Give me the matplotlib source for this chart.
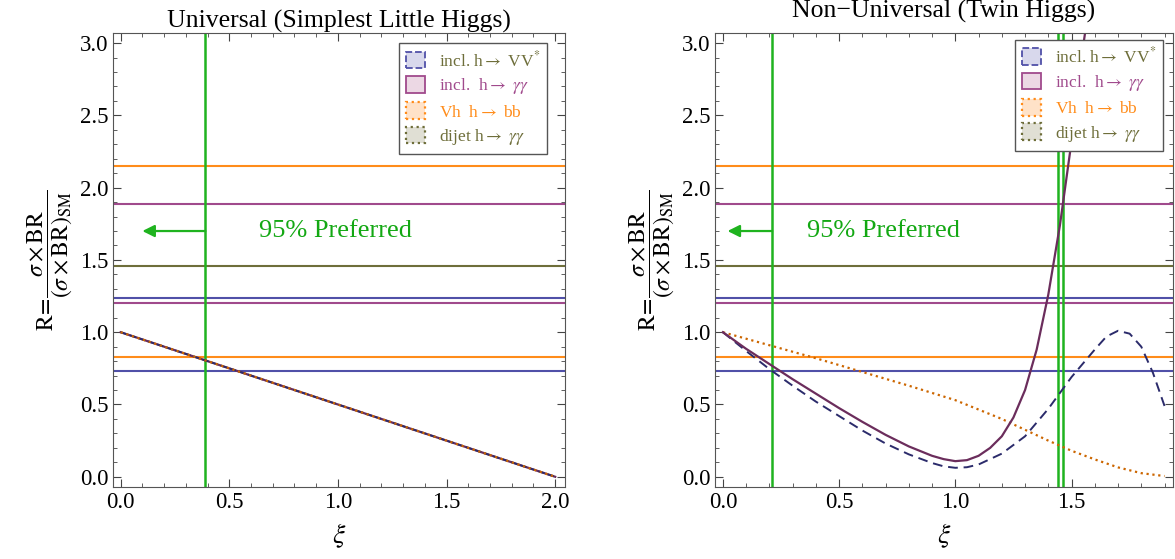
import matplotlib
matplotlib.use('Agg')
import matplotlib.pyplot as plt
from matplotlib.patches import Patch
from matplotlib.ticker import MultipleLocator

plt.rcParams['font.family'] = ['Liberation Serif', 'DejaVu Serif']
plt.rcParams['mathtext.fontset'] = 'stix'

# 95% ranges of the measured signal strengths (horizontal lines)
vv_band = [0.73, 1.24]
gg_band = [1.20, 1.89]
bb_band = [0.83, 2.15]
dijet_band = [1.46]

# universal model: all channels coincide
xi_u = [0.0, 0.5, 1.0, 1.5, 2.0]
r_u = [1.0, 0.75, 0.5, 0.25, 0.0]
xi_u_cut = 0.39

# non-universal (twin higgs)
xi_gg = [0.0, 0.1, 0.2, 0.3, 0.4, 0.5, 0.6, 0.7, 0.8, 0.9, 0.95, 1.0, 1.05,
         1.1, 1.15, 1.2, 1.25, 1.3, 1.35, 1.4, 1.45, 1.5, 1.55, 1.57]
r_gg = [1.0, 0.885, 0.78, 0.675, 0.575, 0.475, 0.38, 0.29, 0.21, 0.145, 0.122,
        0.108, 0.115, 0.145, 0.2, 0.28, 0.41, 0.60, 0.88, 1.26, 1.74, 2.32,
        2.98, 3.2]
xi_vv = [0.0, 0.1, 0.2, 0.3, 0.4, 0.5, 0.6, 0.7, 0.8, 0.9, 0.95, 1.0, 1.05,
         1.1, 1.2, 1.3, 1.4, 1.5, 1.6, 1.65, 1.7, 1.75, 1.8, 1.85, 1.9]
r_vv = [1.0, 0.87, 0.745, 0.63, 0.52, 0.42, 0.32, 0.23, 0.155, 0.095, 0.072,
        0.062, 0.066, 0.085, 0.16, 0.28, 0.47, 0.69, 0.88, 0.97, 1.01, 0.99,
        0.9, 0.72, 0.49]
xi_bb = [0.0, 0.2, 0.4, 0.6, 0.8, 1.0, 1.2, 1.3, 1.4, 1.5, 1.6, 1.7, 1.8, 1.9]
r_bb = [1.0, 0.91, 0.82, 0.725, 0.63, 0.53, 0.40, 0.325, 0.25, 0.18, 0.12,
        0.065, 0.025, 0.005]
xi_nu_cut = [0.212, 1.44, 1.465]

c_vv, c_gg, c_bb, c_dj = '#5050a8', '#a04a8c', '#ff8c1a', '#6e6e3a'
c_green = '#1fb31f'

fig = plt.figure(figsize=(11.75, 5.59), dpi=100)
ax1 = fig.add_axes([0.0962, 0.129, 0.385, 0.812])
ax2 = fig.add_axes([0.6085, 0.129, 0.3895, 0.812])


def setup(ax, xlim, leg_anchor):
    ax.set_xlim(*xlim)
    ax.set_ylim(-0.07, 3.07)
    ax.xaxis.set_major_locator(MultipleLocator(0.5))
    ax.xaxis.set_minor_locator(MultipleLocator(0.1))
    ax.yaxis.set_major_locator(MultipleLocator(0.5))
    ax.yaxis.set_minor_locator(MultipleLocator(0.1))
    ax.xaxis.set_major_formatter(plt.FuncFormatter(lambda v, p: f'{v:.1f}'))
    ax.yaxis.set_major_formatter(plt.FuncFormatter(lambda v, p: f'{v:.1f}'))
    ax.tick_params(which='both', direction='in', top=True, right=True,
                   labelsize=16.5, color='#444444')
    ax.tick_params(which='major', length=6)
    ax.tick_params(which='minor', length=3)
    for s in ax.spines.values():
        s.set_color('#555555')
    ax.set_xlabel(r'$\xi$', fontsize=20, labelpad=6)
    ax.set_ylabel(r'$\mathrm{R}\!=\!\dfrac{\sigma\times\mathrm{BR}}{(\sigma\times\mathrm{BR})_{\mathrm{SM}}}$',
                  fontsize=17, labelpad=4)
    for v in vv_band:
        ax.axhline(v, color=c_vv, lw=1.5)
    for v in gg_band:
        ax.axhline(v, color=c_gg, lw=1.5)
    for v in bb_band:
        ax.axhline(v, color=c_bb, lw=1.5)
    for v in dijet_band:
        ax.axhline(v, color=c_dj, lw=1.5)
    handles = [
        Patch(facecolor='#d8d8ec', edgecolor=c_vv, linestyle='--', lw=1.3),
        Patch(facecolor='#ecd8e4', edgecolor=c_gg, linestyle='-', lw=1.3),
        Patch(facecolor='#ffe2c8', edgecolor=c_bb, linestyle=':', lw=1.6),
        Patch(facecolor='#e0dfd4', edgecolor=c_dj, linestyle=':', lw=1.6),
    ]
    labels = [r'incl. h$\rightarrow$ VV$^{*}$',
              r'incl.  h$\rightarrow$ $\gamma\gamma$',
              r'Vh  h$\rightarrow$ bb',
              r'dijet h$\rightarrow$ $\gamma\gamma$']
    leg = ax.legend(handles, labels, loc='upper right', fontsize=12.5,
                    bbox_to_anchor=leg_anchor,
                    fancybox=False, edgecolor='#555555', framealpha=1,
                    handlelength=1.1, handleheight=1.1, handletextpad=0.8,
                    borderpad=0.4, borderaxespad=0.0, labelspacing=0.35)
    for t, c in zip(leg.get_texts(), [c_dj, c_gg, c_bb, c_dj]):
        t.set_color(c)


setup(ax1, (-0.035, 2.047), (0.96, 0.978))
setup(ax2, (-0.034, 1.935), (0.98, 0.985))

# left panel
ax1.axvline(xi_u_cut, color=c_green, lw=1.8)
ax1.plot(xi_u, r_u, color='#6b2d5c', lw=1.6)
ax1.plot(xi_u, r_u, color='#2b2b6b', lw=1.3, ls='--')
ax1.plot(xi_u, r_u, color='#cc6600', lw=1.6, ls=':')
ax1.annotate('', xy=(0.10, 1.70), xytext=(xi_u_cut, 1.70),
             arrowprops=dict(arrowstyle='-|>', color=c_green, lw=1.6,
                             mutation_scale=18, shrinkA=0, shrinkB=0))
ax1.text(0.99, 1.70, '95% Preferred', color='#13a813', fontsize=19,
         ha='center', va='center')
ax1.set_title('Universal (Simplest Little Higgs)', fontsize=18.5, pad=4)

# right panel
for v in xi_nu_cut:
    ax2.axvline(v, color=c_green, lw=1.8)
ax2.plot(xi_bb, r_bb, color='#cc6600', lw=1.6, ls=':')
ax2.plot(xi_vv, r_vv, color='#2b2b6b', lw=1.4, ls=(0, (5, 3)))
ax2.plot(xi_gg, r_gg, color='#6b2d5c', lw=1.6)
ax2.annotate('', xy=(0.02, 1.70), xytext=(xi_nu_cut[0], 1.70),
             arrowprops=dict(arrowstyle='-|>', color=c_green, lw=1.6,
                             mutation_scale=18, shrinkA=0, shrinkB=0))
ax2.text(0.69, 1.70, '95% Preferred', color='#13a813', fontsize=19,
         ha='center', va='center')
ax2.set_title('Non\u2212Universal (Twin Higgs)', fontsize=18.5, pad=11)

fig.savefig('out.png', dpi=100)
